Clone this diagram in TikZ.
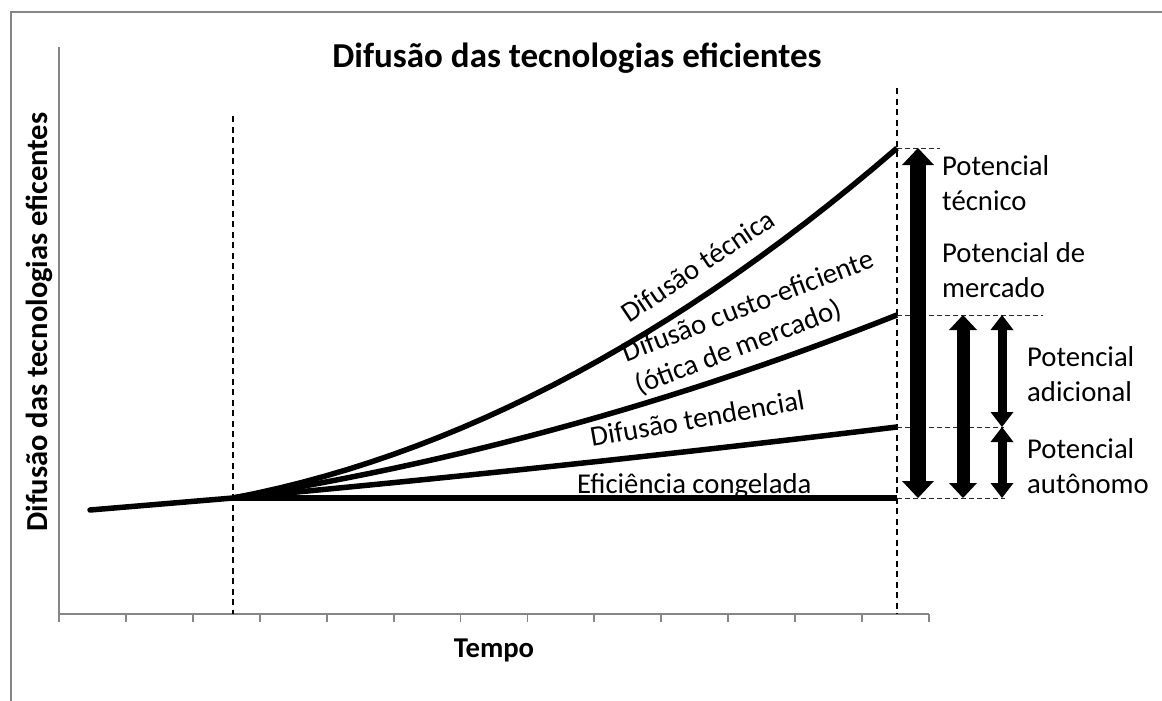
\documentclass[tikz,border=0pt]{standalone}
\usepackage{fontspec}
\setmainfont{Carlito}
\usetikzlibrary{arrows.meta}
\definecolor{axisgray}{HTML}{868686}
\begin{document}
\begin{tikzpicture}[x=1pt,y=-1pt,
  frameline/.style={draw=axisgray,line width=2pt},
  axisline/.style={draw=axisgray,line width=1.8pt},
  curve/.style={line width=5.5pt,line join=round},
  vdash/.style={line width=1.6pt,dash pattern=on 6pt off 4.5pt},
  hdash/.style={line width=1pt,dash pattern=on 4.5pt off 3.5pt,black!85},
  lbl/.style={font=\fontsize{28.7}{35}\selectfont,inner sep=0pt},
  bigarrow/.style={line width=16pt,{Triangle[width=32pt,length=17pt,line width=0pt]}-{Triangle[width=32pt,length=17pt,line width=0pt]}},
  midarrow/.style={line width=13pt,{Triangle[width=28pt,length=15pt,line width=0pt]}-{Triangle[width=28pt,length=15pt,line width=0pt]}},
  smallarrow/.style={line width=9pt,{Triangle[width=23pt,length=15pt,line width=0pt]}-{Triangle[width=23pt,length=15pt,line width=0pt]}}
]
\useasboundingbox (0,0) rectangle (1162,701);
\fill[white] (0,0) rectangle (1162,701);
% frame
\draw[frameline] (1162,12.5) -- (10.5,12.5) -- (10.5,701);
% axes
\draw[axisline] (59,47) -- (59,614) -- (929,614);
\foreach \k in {0,...,13}{
  \draw[axisline] ({59+66.923*\k},614) -- ++(0,8);
}
% dashed verticals
\coordinate (v1t) at (233,116); \coordinate (v1b) at (233,614);
\coordinate (v2t) at (897,88);  \coordinate (v2b) at (897,614);
\draw[vdash] (v1t) -- (v1b);
\draw[vdash] (v2t) -- (v2b);
% curves
\coordinate (start) at (90,510);
\coordinate (branch) at (233,498);
\draw[curve,line cap=round] (start) -- (branch);
\draw[curve] (branch) -- (897,498);
\draw[curve] plot[domain=0:6.64,samples=30] ({233+100*\x},{498-9.21*\x-0.224*\x*\x});
\draw[curve] plot[domain=0:6.64,samples=30] ({233+100*\x},{498-15.54*\x-1.81*\x*\x});
\draw[curve] plot[domain=0:6.64,samples=30] ({233+100*\x},{498-19.09*\x-5.06*\x*\x});
% levels
\coordinate (lt) at (897,148);
\coordinate (lc) at (897,315);
\coordinate (ld) at (897,427);
\coordinate (lf) at (897,498);
\coordinate (lte) at (940,148);
\coordinate (lce) at (1043,315);
\coordinate (lde) at (1004,427);
\coordinate (lfe) at (1005,498);
\draw[hdash] (lt) -- (lte);
\draw[hdash] (lc) -- (lce);
\draw[hdash] (ld) -- (lde);
\draw[hdash] (lf) -- (lfe);
% arrows
\coordinate (a1t) at (918,148); \coordinate (a1b) at (918,498);
\coordinate (a2t) at (963,315); \coordinate (a2b) at (963,498);
\coordinate (a3t) at (1002,315); \coordinate (a3m) at (1002,427); \coordinate (a3b) at (1002,498);
\draw[bigarrow] (a1t) -- (a1b);
\draw[midarrow] (a2t) -- (a2b);
\draw[smallarrow] (a3t) -- (a3m);
\draw[smallarrow] (a3m) -- (a3b);
% curve labels
\node[lbl,rotate=34,anchor=base] (ltec) at (703,274) {Difusão técnica};
\node[lbl,rotate=21,anchor=base west,align=left] (lcusto) at (639,395) {Difusão custo-eficiente\\(ótica de mercado)};
\node[lbl,rotate=10,anchor=base west] (ltend) at (592,447) {Difusão tendencial};
\node[lbl,anchor=base west] (lcong) at (577,493) {Eficiência congelada};
% right labels (base = last line)
\node[lbl,anchor=base west,align=left] (ptec) at (942,210) {Potencial\\técnico};
\node[lbl,anchor=base west,align=left] (pmer) at (942,297) {Potencial de\\mercado};
\node[lbl,anchor=base west,align=left] (padi) at (1027,401) {Potencial\\adicional};
\node[lbl,anchor=base west,align=left] (paut) at (1027,493) {Potencial\\autônomo};
% titles
\node[font=\bfseries\fontsize{35}{42}\selectfont,inner sep=0pt,anchor=base] (title) at (577,67) {Difusão das tecnologias eficientes};
\node[font=\bfseries\fontsize{30.5}{36}\selectfont,inner sep=0pt,rotate=90,anchor=base] (ylab) at (47,322) {Difusão das tecnologias eficentes};
\node[font=\bfseries\fontsize{28.7}{35}\selectfont,inner sep=0pt,anchor=base] (xlab) at (494,657) {Tempo};
\end{tikzpicture}
\end{document}
